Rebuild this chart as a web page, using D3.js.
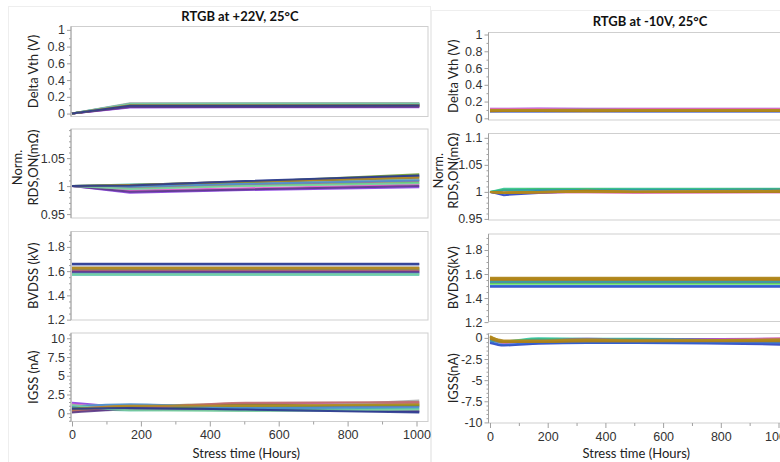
<!DOCTYPE html>
<html>
<head>
<meta charset="utf-8">
<script src="https://cdn.jsdelivr.net/npm/d3@7"></script>
<style>
body { margin: 0; background: #fff; }
svg { display: block; font-family: Lato, "Open Sans", sans-serif; }
.axis path, .axis line { stroke: #a0a0a0; }
.axis text { fill: #333; font-size: 12.5px; }
.ylab { fill: #222; font-size: 13px; }
.title { fill: #111; font-size: 13px; font-weight: bold; }
</style>
</head>
<body>
<svg id="chart" width="780" height="462"></svg>
<script>
// readout times (hours)
const timesL = [0, 168, 504, 1008];
const timesR = [0, 48, 168, 336, 504, 1008];
const xTicks = [0, 200, 400, 600, 800, 1000];
const xMinor = [100, 300, 500, 700, 900];

const colorsL = ["#8a3fe0", "#3cd23c", "#3a4fa8", "#e055c8", "#35b8a8", "#8c7a3a", "#a8a8a8",
    "#6f9a2a", "#c06a6a", "#4a90d0", "#5a3a8a", "#7ad0a0", "#b58a20", "#2a3a90"];
const colorsR = ["#2a40c0", "#2ec4a0", "#9b30d9", "#50d050", "#e070b0", "#3060d0", "#a07840",
    "#30a0a0", "#c09040", "#b8860b", "#a8801a", "#b0881e"];

// +22V panel
const dVthL = [
    [0, 0.072, 0.074, 0.075], [0, 0.105, 0.106, 0.108], [0, 0.090, 0.092, 0.094],
    [0, 0.082, 0.083, 0.084], [0, 0.118, 0.119, 0.121], [0, 0.100, 0.100, 0.102],
    [0, 0.122, 0.123, 0.125], [0, 0.095, 0.097, 0.099], [0, 0.088, 0.089, 0.090],
    [0, 0.112, 0.113, 0.115], [0, 0.078, 0.079, 0.080], [0, 0.115, 0.116, 0.118],
    [0, 0.098, 0.099, 0.100], [0, 0.093, 0.094, 0.096]
];
const rdsL = [
    [1, 0.988, 0.993, 0.998], [1, 0.996, 1.001, 1.006], [1, 1.002, 1.008, 1.018],
    [1, 0.992, 0.996, 1.003], [1, 1.003, 1.006, 1.012], [1, 1.001, 1.007, 1.015],
    [1, 0.998, 1.004, 1.011], [1, 1.000, 1.007, 1.021], [1, 0.997, 1.003, 1.009],
    [1, 0.999, 1.004, 1.010], [1, 0.990, 0.994, 1.000], [1, 0.995, 1.000, 1.005],
    [1, 1.002, 1.008, 1.016], [1, 1.001, 1.009, 1.019]
];
const bvdssL = [
    [1.590, 1.590, 1.590, 1.590], [1.610, 1.610, 1.610, 1.610], [1.655, 1.655, 1.655, 1.655],
    [1.600, 1.600, 1.600, 1.600], [1.570, 1.570, 1.570, 1.570], [1.630, 1.630, 1.630, 1.630],
    [1.620, 1.620, 1.620, 1.620], [1.615, 1.615, 1.615, 1.615], [1.605, 1.605, 1.605, 1.605],
    [1.585, 1.585, 1.585, 1.585], [1.595, 1.595, 1.595, 1.595], [1.575, 1.575, 1.575, 1.575],
    [1.625, 1.625, 1.625, 1.625], [1.660, 1.660, 1.660, 1.660]
];
const igssL = [
    [1.4, 0.9, 0.8, 0.9], [0.6, 0.8, 1.1, 1.3], [0.4, 0.5, 0.6, 0.2],
    [1.2, 0.7, 1.3, 1.4], [0.7, 0.4, 0.5, 0.6], [0.2, 0.9, 1.2, 1.0],
    [1.0, 1.1, 0.9, 1.7], [0.8, 0.6, 0.9, 1.1], [0.3, 0.6, 1.4, 1.5],
    [0.9, 1.2, 0.7, 0.8], [0.1, 0.5, 0.4, 0.3], [1.1, 0.4, 0.3, 0.5],
    [0.5, 1.0, 1.0, 1.2], [0.6, 0.7, 0.5, 0.1]
];

// -10V panel
const dVthR = [
    [0.080, 0.080, 0.081, 0.080, 0.081, 0.080], [0.100, 0.100, 0.101, 0.100, 0.100, 0.101],
    [0.115, 0.115, 0.116, 0.115, 0.115, 0.114], [0.095, 0.095, 0.095, 0.096, 0.095, 0.095],
    [0.110, 0.110, 0.111, 0.110, 0.110, 0.110], [0.085, 0.085, 0.085, 0.086, 0.085, 0.085],
    [0.090, 0.090, 0.091, 0.090, 0.090, 0.091], [0.100, 0.100, 0.100, 0.101, 0.100, 0.100],
    [0.095, 0.095, 0.096, 0.095, 0.095, 0.095], [0.085, 0.086, 0.086, 0.085, 0.086, 0.086],
    [0.090, 0.090, 0.090, 0.091, 0.090, 0.090], [0.100, 0.099, 0.100, 0.100, 0.100, 0.099]
];
const rdsR = [
    [1, 0.994, 0.998, 1.001, 1.000, 1.002], [1, 1.006, 1.006, 1.006, 1.006, 1.006],
    [1, 0.998, 0.999, 1.001, 1.000, 1.001], [1, 1.004, 1.005, 1.005, 1.004, 1.005],
    [1, 0.999, 0.999, 0.999, 0.998, 0.999], [1, 0.997, 1.002, 1.003, 1.003, 1.004],
    [1, 0.998, 0.999, 1.001, 1.000, 1.001], [1, 1.003, 1.004, 1.004, 1.004, 1.004],
    [1, 0.999, 1.000, 1.002, 1.001, 1.002], [1, 0.998, 1.000, 1.002, 1.000, 1.001],
    [1, 0.999, 0.999, 1.001, 1.000, 1.000], [1, 0.998, 1.000, 1.000, 1.000, 1.002]
];
const bvdssR = [
    [1.495, 1.495, 1.495, 1.495, 1.495, 1.495], [1.540, 1.540, 1.540, 1.540, 1.540, 1.540],
    [1.530, 1.530, 1.530, 1.530, 1.530, 1.530], [1.520, 1.520, 1.520, 1.520, 1.520, 1.520],
    [1.545, 1.545, 1.545, 1.545, 1.545, 1.545], [1.500, 1.500, 1.500, 1.500, 1.500, 1.500],
    [1.550, 1.550, 1.550, 1.550, 1.550, 1.550], [1.535, 1.535, 1.535, 1.535, 1.535, 1.535],
    [1.560, 1.560, 1.560, 1.560, 1.560, 1.560], [1.555, 1.555, 1.555, 1.555, 1.555, 1.555],
    [1.565, 1.565, 1.565, 1.565, 1.565, 1.565], [1.570, 1.570, 1.570, 1.570, 1.570, 1.570]
];
const igssR = [
    [-0.6, -0.9, -0.7, -0.6, -0.6, -0.8], [-0.2, -0.4, -0.05, -0.1, -0.1, -0.2],
    [-0.3, -0.5, -0.3, -0.1, -0.2, -0.1], [-0.1, -0.4, -0.2, -0.2, -0.2, -0.3],
    [-0.2, -0.6, -0.3, -0.3, -0.3, -0.05], [-0.5, -0.8, -0.6, -0.6, -0.6, -0.6],
    [0.1, -0.5, -0.4, -0.3, -0.3, -0.2], [-0.3, -0.5, -0.2, -0.3, -0.2, -0.4],
    [0.0, -0.5, -0.4, -0.4, -0.4, -0.3], [0.2, -0.4, -0.4, -0.3, -0.3, -0.3],
    [-0.1, -0.5, -0.5, -0.4, -0.4, -0.4], [0.1, -0.3, -0.3, -0.2, -0.3, -0.2]
];

const svg = d3.select("#chart");

// faint panel cards
svg.append("rect").attr("x", 8.5).attr("y", 6.5).attr("width", 422).attr("height", 470)
    .attr("fill", "#fff").attr("stroke", "#eeeeee");
svg.append("rect").attr("x", 431.5).attr("y", 10.5).attr("width", 360).attr("height", 470)
    .attr("fill", "#fff").attr("stroke", "#eeeeee");

const panels = [
    {
        title: "RTGB at +22V, 25°C", titleX: 240, titleY: 21,
        left: 71, right: 428, x0: 72, x1000: 416.5,
        labelX: 33, normX: 17,
        times: timesL, colors: colorsL,
        plots: [
            { top: 26.5, bottom: 116.5, domain: [-0.035, 1.04], ticks: [0, 0.2, 0.4, 0.6, 0.8, 1], minor: 0.1,
              label: ["Delta Vth (V)"], data: dVthL },
            { top: 129, bottom: 218, domain: [0.943, 1.102], ticks: [0.95, 1, 1.05], minor: 0.01,
              label: ["Norm.", "RDS,ON(mΩ)"], data: rdsL },
            { top: 231.5, bottom: 320, domain: [1.197, 1.927], ticks: [1.2, 1.4, 1.6, 1.8], minor: 0.05,
              label: ["BVDSS (kV)"], data: bvdssL },
            { top: 333, bottom: 421.5, domain: [-1.1, 10.7], ticks: [0, 2.5, 5, 7.5, 10], minor: 0.5,
              label: ["IGSS (nA)"], data: igssL, smooth: true }
        ]
    },
    {
        title: "RTGB at -10V, 25°C", titleX: 650, titleY: 26,
        left: 488.5, right: 792, x0: 490, x1000: 778.5,
        labelX: 453, normX: 438,
        times: timesR, colors: colorsR,
        plots: [
            { top: 32.5, bottom: 120, domain: [-0.02, 1.024], ticks: [0, 0.2, 0.4, 0.6, 0.8, 1], minor: 0.1,
              label: ["Delta Vth (V)"], data: dVthR },
            { top: 133.5, bottom: 220, domain: [0.948, 1.108], ticks: [0.95, 1, 1.05, 1.1], minor: 0.01,
              label: ["Norm.", "RDS,ON(mΩ)"], data: rdsR },
            { top: 234, bottom: 321.5, domain: [1.205, 1.933], ticks: [1.2, 1.4, 1.6, 1.8], minor: 0.05,
              label: ["BVDSS(kV)"], data: bvdssR },
            { top: 333.5, bottom: 423, domain: [-10.07, 0.52], ticks: [-10, -7.5, -5, -2.5, 0], minor: 0.5,
              label: ["IGSS(nA)"], data: igssR, smooth: true }
        ]
    }
];

function minorValues(domain, step, major) {
    const out = [];
    const start = Math.ceil(domain[0] / step - 1e-6);
    const end = Math.floor(domain[1] / step + 1e-6);
    for (let i = start; i <= end; i++) {
        const v = +(i * step).toFixed(4);
        if (!major.some(function (m) { return Math.abs(m - v) < 1e-6; })) out.push(v);
    }
    return out;
}

panels.forEach(function (p, pi) {
    const g = svg.append("g");
    const x = d3.scaleLinear().domain([0, 1000]).range([p.x0, p.x1000]);

    g.append("text").attr("class", "title")
        .attr("x", p.titleX).attr("y", p.titleY)
        .attr("text-anchor", "middle")
        .text(p.title);

    p.plots.forEach(function (pl, i) {
        const y = d3.scaleLinear().domain(pl.domain).range([pl.bottom, pl.top]);

        g.append("rect")
            .attr("x", p.left).attr("y", pl.top)
            .attr("width", p.right - p.left).attr("height", pl.bottom - pl.top)
            .attr("fill", "#fff").attr("stroke", "#cfcfcf");

        const clipId = "clip" + pi + "_" + i;
        g.append("clipPath").attr("id", clipId)
            .append("rect")
            .attr("x", p.left).attr("y", pl.top)
            .attr("width", p.right - p.left).attr("height", pl.bottom - pl.top);

        const line = d3.line()
            .x(function (d, j) { return x(p.times[j]); })
            .y(function (d) { return y(d); })
            .curve(pl.smooth ? d3.curveMonotoneX : d3.curveLinear);

        g.append("g")
            .attr("clip-path", "url(#" + clipId + ")")
            .selectAll("path")
            .data(pl.data)
            .enter()
            .append("path")
            .attr("d", line)
            .attr("fill", "none")
            .attr("stroke", function (d, j) { return p.colors[j % p.colors.length]; })
            .attr("stroke-width", 2)
            .attr("stroke-opacity", 0.9);

        // minor ticks then major
        g.append("g").attr("class", "axis")
            .attr("transform", "translate(" + p.left + ",0)")
            .call(d3.axisLeft(y)
                .tickValues(minorValues(pl.domain, pl.minor, pl.ticks))
                .tickSize(2).tickSizeOuter(0).tickFormat(""))
            .select(".domain").remove();
        g.append("g").attr("class", "axis")
            .attr("transform", "translate(" + p.left + ",0)")
            .call(d3.axisLeft(y)
                .tickValues(pl.ticks)
                .tickSize(4).tickSizeOuter(0).tickPadding(2)
                .tickFormat(function (d) { return String(d); }))
            .select(".domain").attr("d", "M0," + pl.top + "V" + pl.bottom);

        // axis label
        const cy = (pl.top + pl.bottom) / 2;
        if (pl.label.length === 1) {
            g.append("text").attr("class", "ylab")
                .attr("transform", "translate(" + p.labelX + "," + cy + ") rotate(-90)")
                .attr("text-anchor", "middle").attr("dy", "0.35em")
                .text(pl.label[0]);
        } else {
            g.append("text").attr("class", "ylab")
                .attr("transform", "translate(" + p.normX + "," + (cy - 6) + ") rotate(-90)")
                .attr("text-anchor", "middle").attr("dy", "0.35em")
                .text(pl.label[0]);
            g.append("text").attr("class", "ylab")
                .attr("transform", "translate(" + p.labelX + "," + (cy - 6) + ") rotate(-90)")
                .attr("text-anchor", "middle").attr("dy", "0.35em")
                .text(pl.label[1]);
        }
    });

    const last = p.plots[p.plots.length - 1];
    g.append("g").attr("class", "axis")
        .attr("transform", "translate(0," + last.bottom + ")")
        .call(d3.axisBottom(x).tickValues(xMinor).tickSize(3).tickSizeOuter(0).tickFormat(""))
        .select(".domain").remove();
    g.append("g").attr("class", "axis")
        .attr("transform", "translate(0," + last.bottom + ")")
        .call(d3.axisBottom(x).tickValues(xTicks).tickSize(5).tickSizeOuter(0).tickPadding(4)
            .tickFormat(function (d) { return String(d); }))
        .select(".domain").remove();

    g.append("text").attr("class", "ylab")
        .attr("x", (p.x0 + p.x1000) / 2 + 2).attr("y", 458)
        .attr("text-anchor", "middle")
        .text("Stress time (Hours)");
});
</script>
</body>
</html>
